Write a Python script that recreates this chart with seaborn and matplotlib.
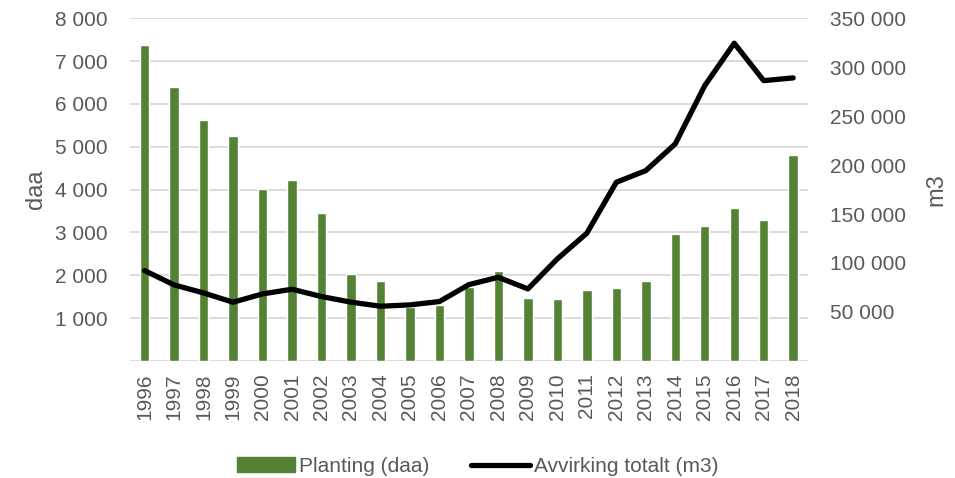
import numpy as np
import pandas as pd
import matplotlib
matplotlib.use("Agg")
import matplotlib.pyplot as plt
from matplotlib.ticker import FuncFormatter
from matplotlib.patches import Patch
from matplotlib.lines import Line2D
import seaborn as sns

years = [str(y) for y in range(1996, 2019)]
planting = [7380, 6390, 5630, 5260, 4020, 4230, 3460, 2030, 1860, 1250, 1310,
            1720, 2090, 1470, 1450, 1665, 1710, 1875, 2965, 3145, 3570, 3300, 4795]
avvirking = [92200, 77600, 69400, 59900, 68400, 73200, 65700, 60000, 55800, 57200,
             60600, 77900, 85400, 73500, 104200, 130400, 182400, 194300, 221600,
             281100, 324400, 286200, 289000]

df = pd.DataFrame({"year": years, "planting": planting, "avvirking": avvirking})
df["pos"] = np.arange(len(df))

sns.set_style("white")
plt.rcParams["font.family"] = ["Liberation Sans", "DejaVu Sans"]

green = "#548235"
grey_txt = "#595959"
grid_c = "#d9d9d9"

fig = plt.figure(figsize=(9.55, 4.78), dpi=100)
ax = fig.add_axes([0.136, 0.245, 0.71, 0.717])

sns.barplot(data=df, x="year", y="planting", color=green, width=0.32,
            saturation=1, ax=ax, zorder=2)
ax.set_ylim(0, 8000)
ax.set_yticks(range(0, 8001, 1000))
ax.yaxis.set_major_formatter(FuncFormatter(lambda v, p: "" if v == 0 else f"{int(v):,}".replace(",", " ")))
ax.grid(axis="y", color=grid_c, lw=1.3, zorder=0)
ax.set_axisbelow(True)
ax.set_xlim(-0.5, 22.5)
ax.set_xlabel("")
ax.set_ylabel("daa", fontsize=17, color=grey_txt, labelpad=6)
ax.tick_params(axis="x", labelrotation=90, labelsize=15, colors=grey_txt, length=0, pad=9)
ax.tick_params(axis="y", labelsize=15, colors=grey_txt, length=0, pad=16)
for s in ax.spines.values():
    s.set_visible(False)

ax2 = ax.twinx()
sns.lineplot(data=df, x="pos", y="avvirking", color="black", lw=3.8, ax=ax2,
             solid_capstyle="round")
ax2.set_ylim(0, 350000)
ax2.set_yticks(range(50000, 350001, 50000))
ax2.yaxis.set_major_formatter(FuncFormatter(lambda v, p: f"{int(v):,}".replace(",", " ")))
ax2.set_ylabel("m3", fontsize=17, color=grey_txt, labelpad=14)
ax2.tick_params(axis="y", labelsize=15, colors=grey_txt, length=0, pad=16)
ax2.set_xlim(-0.5, 22.5)
for s in ax2.spines.values():
    s.set_visible(False)

handles = [Patch(color=green, label="Planting (daa)"),
           Line2D([0], [0], color="black", lw=3.8, label="Avvirking totalt (m3)")]
leg = fig.legend(handles=handles, loc="lower center", bbox_to_anchor=(0.5, -0.035),
                 ncol=2, frameon=False, fontsize=15, handlelength=2.8,
                 columnspacing=2.0, handletextpad=0.2)
for t in leg.get_texts():
    t.set_color(grey_txt)

fig.savefig("out.png", dpi=100)
